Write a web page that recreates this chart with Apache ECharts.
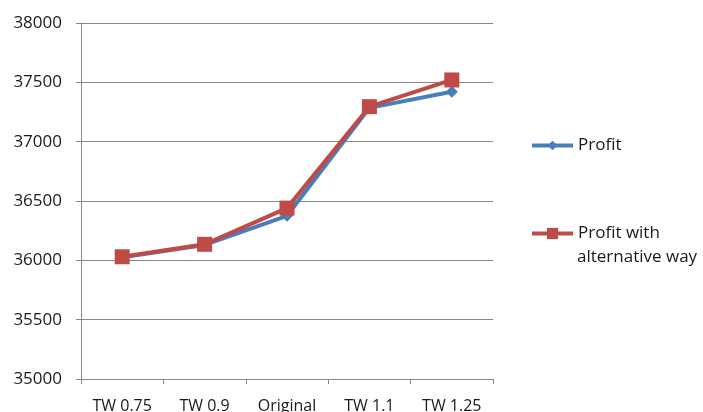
<!DOCTYPE html>
<html><head><meta charset="utf-8">
<script src="https://cdn.jsdelivr.net/npm/echarts@6/dist/echarts.min.js"></script>
<style>html,body{margin:0;padding:0;background:#fff}#c{width:703px;height:412px}</style>
</head><body><div id="c"></div>
<script>
var categories = ['TW 0.75', 'TW 0.9', 'Original', 'TW 1.1', 'TW 1.25'];
var profit = [36025, 36130, 36375, 37285, 37420];
var profitAlt = [36030, 36135, 36440, 37295, 37520];
var yTicks = [35000, 35500, 36000, 36500, 37000, 37500, 38000];

var chart = echarts.init(document.getElementById('c'), null, {renderer: 'canvas'});
var font = '"Open Sans", sans-serif';
var txt = '#1a1a1a';
chart.setOption({
  animation: false,
  grid: {left: 81, right: 210, top: 23, bottom: 33, containLabel: false, outerBoundsMode: 'none'},
  xAxis: {
    type: 'category', data: categories, boundaryGap: true,
    axisLine: {lineStyle: {color: '#868686', width: 1}},
    axisTick: {show: true, length: 5, lineStyle: {color: '#868686'}},
    axisLabel: {color: txt, fontSize: 16, fontFamily: font, margin: 19}
  },
  yAxis: {
    type: 'value', min: yTicks[0], max: yTicks[yTicks.length - 1], interval: 500,
    axisLine: {show: true, lineStyle: {color: '#868686', width: 1}},
    axisTick: {show: true, length: 5, lineStyle: {color: '#868686'}},
    splitLine: {lineStyle: {color: '#868686', width: 1}},
    axisLabel: {color: txt, fontSize: 17, fontFamily: font, margin: 19,
      formatter: function (v) { return String(v); }}
  },
  legend: [{
    orient: 'vertical', left: 530, top: 137, padding: 0, itemWidth: 41, itemHeight: 12,
    lineStyle: {width: 4},
    textStyle: {color: txt, fontSize: 17, fontFamily: font},
    data: ['Profit']
  }, {
    orient: 'vertical', left: 530, top: 225, padding: 0, itemWidth: 41, itemHeight: 14,
    lineStyle: {width: 4},
    textStyle: {color: txt, fontSize: 17, fontFamily: font},
    formatter: function () { return 'Profit with'; },
    data: ['Profit with alternative way']
  }],
  graphic: [{
    type: 'text', left: 577, top: 249,
    style: {text: 'alternative way', fill: txt, fontSize: 17, fontFamily: font}
  }],
  series: [{
    name: 'Profit', type: 'line', data: profit,
    symbol: 'diamond', symbolSize: 12,
    lineStyle: {color: '#4A7EBB', width: 4},
    itemStyle: {color: '#4A7EBB'}
  }, {
    name: 'Profit with alternative way', type: 'line', data: profitAlt,
    symbol: 'rect', symbolSize: 15,
    lineStyle: {color: '#BE4B48', width: 4},
    itemStyle: {color: '#BE4B48'}
  }]
});
</script></body></html>
